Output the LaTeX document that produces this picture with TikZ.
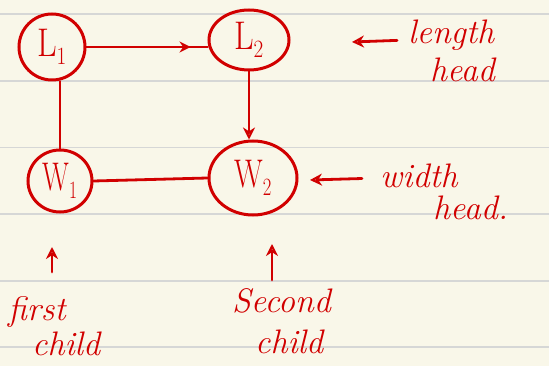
\documentclass[tikz,border=0pt]{standalone}
\usepackage{fontspec}
\usetikzlibrary{arrows.meta,decorations.markings,shapes.geometric}
\definecolor{paper}{HTML}{F9F7E9}
\definecolor{rule}{HTML}{D6D7D6}
\definecolor{ink}{HTML}{D10000}
\tikzset{
  state/.style={draw=ink, line width=3pt, ellipse, inner sep=0pt, text=ink, font=\fontsize{40}{40}\selectfont},
  edge/.style={draw=ink, line width=2.8pt, line cap=round},
  note/.style={text=ink, font=\itshape\fontsize{34}{34}\selectfont, inner sep=0pt},
  tip/.style={-{Stealth[open,length=12pt,width=12pt,line width=2.2pt]}},
  paperline/.style={draw=rule, line width=1.2pt}
}
\begin{document}
\begin{tikzpicture}[x=1pt,y=-1pt]
\fill[paper] (0,0) rectangle (549,366);
\useasboundingbox (0,0) rectangle (549,366);
\foreach \yy in {14,81,147.5,214,281,347} \draw[paperline] (0,\yy) -- (549,\yy);
% states
\node[state, minimum width=66pt, minimum height=66pt] (L1) at (52,47) {\scalebox{0.85}[1]{L$_1$}};
\node[state, minimum width=80pt, minimum height=60pt] (L2) at (249,40) {\scalebox{0.85}[1]{L$_2$}};
\node[state, minimum width=64pt, minimum height=62pt] (W1) at (60,181) {\scalebox{0.7}[1]{W$_1$}};
\node[state, minimum width=88pt, minimum height=74pt] (W2) at (253,178) {\scalebox{0.75}[1]{W$_2$}};
% connectors
\draw[edge, postaction={decorate}, decoration={markings, mark=at position 0.86 with {\arrow{Stealth[open,length=11pt,width=11pt,line width=2pt]}}}] (L1.east) -- (L2.west |- L1.east);
\draw[edge] (W1.north |- L1.south) -- (W1.north);
\draw[edge, tip] (L2.south) -- (L2.south |- W2.north);
\draw[edge] (W1.east) -- (W2.west);
% annotations
\node[note, anchor=base west] (len) at (408,44) {length};
\node[note, anchor=base west] (lenh) at (430,82) {head};
\coordinate (lenT) at (352,42);
\draw[edge, tip, shorten <=11pt] (len.west |- 0,40) -- (lenT);
\node[note, anchor=base west] (wid) at (380,188) {width};
\node[note, anchor=base west] (widh) at (433,220) {head.};
\coordinate (widT) at (310,180);
\draw[edge, tip, shorten <=18pt] (wid.west |- 0,178) -- (widT);
\node[note, anchor=base west] (fst) at (8,320) {first};
\node[note, anchor=base west] (fstc) at (32,355) {child};
\coordinate (fstT) at (52,247);
\draw[edge, tip] (52,272) -- (fstT);
\node[note, anchor=base west] (snd) at (232,312) {Second};
\node[note, anchor=base west] (sndc) at (255,353) {child};
\coordinate (sndT) at (272,244);
\draw[edge, tip] (272,280) -- (sndT);
\end{tikzpicture}
\end{document}
